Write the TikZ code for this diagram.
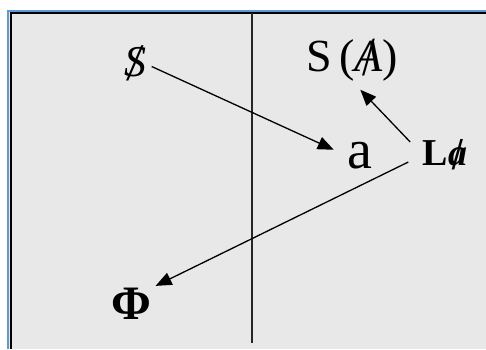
\documentclass[tikz,border=0pt]{standalone}
\usepackage{fontspec}
\setmainfont{Liberation Serif}
\usetikzlibrary{arrows.meta}
\definecolor{panelGray}{RGB}{232,232,232}
\definecolor{frameBlue}{RGB}{91,155,213}
\newcommand{\strikeglyph}[1]{\ooalign{#1\cr\hidewidth\raisebox{-0.1em}{\scalebox{1}[1.2]{/}}\hidewidth}}
\tikzset{
  lbl/.style={inner sep=0pt},
  arr/.style={-{Triangle[length=16pt,width=13pt]},line width=1.3pt}
}

\begin{document}
\begin{tikzpicture}[x=1pt,y=-1pt]
\useasboundingbox (0,0) rectangle (486,349);
\fill[white] (0,0) rectangle (486,349);
\fill[panelGray] (9,10) rectangle (486,349);
\draw[frameBlue,line width=2pt] (8,349) -- (8,11) -- (486,11);
\draw[line width=2pt] (11,349) -- (11,13) -- (486,13);
\draw[line width=1.6pt,black!85] (252,13) -- (252,343);
% labels
\node[lbl,font=\fontsize{44}{50}\selectfont\itshape] (s) at (135,64) {\strikeglyph{S}};
\node[lbl,font=\fontsize{46}{52}\selectfont] (sa) at (352,60) {S\,(\strikeglyph{\itshape A})};
\node[lbl,font=\fontsize{56}{60}\selectfont] (a) at (360,156) {a};
\node[lbl,font=\fontsize{38}{42}\selectfont\bfseries] (la) at (445,155) {L\strikeglyph{\itshape a}};
\node[lbl,font=\fontsize{48}{52}\selectfont\bfseries] (phi) at (131,304) {Φ};
% arrows
\draw[arr,shorten <=6pt,shorten >=15pt] (s.east) -- (a.west);
\draw[arr,shorten <=18pt,shorten >=12pt] (la.west) -- (sa.south);
\draw[arr,shorten <=16pt,shorten >=5pt] (la.west) -- (phi.north east);
\end{tikzpicture}
\end{document}
